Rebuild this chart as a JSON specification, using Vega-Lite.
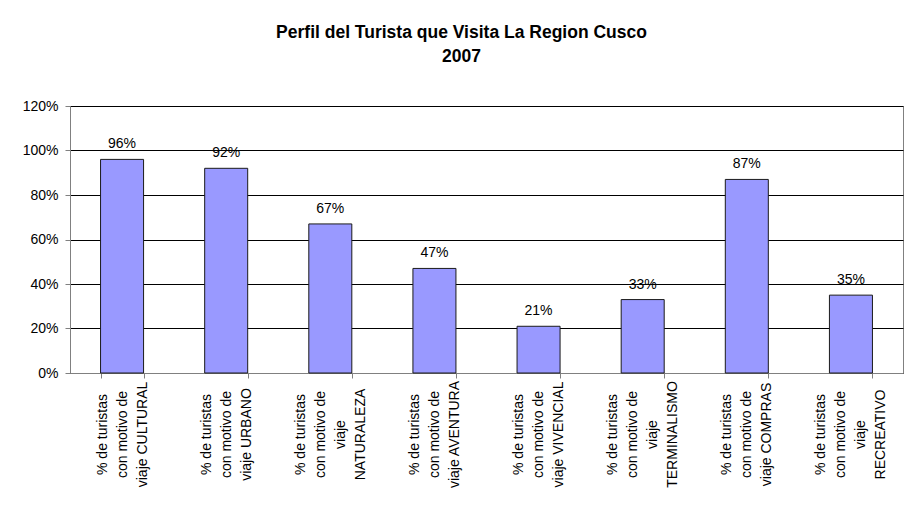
{
  "$schema": "https://vega.github.io/schema/vega-lite/v6.json",
  "autosize": {"type": "none"},
  "width": 833,
  "height": 267,
  "padding": {"left": 70, "top": 106, "right": 1, "bottom": 132},
  "background": "white",
  "title": {
    "text": ["Perfil del Turista que Visita La Region Cusco", "2007"],
    "font": "Liberation Sans",
    "fontSize": 17.5,
    "fontWeight": "bold",
    "color": "black",
    "anchor": "middle",
    "baseline": "alphabetic",
    "lineHeight": 24,
    "offset": 20,
    "dx": -25
  },
  "data": {
    "values": [
      {"motivo": "% de turistas|con motivo de|viaje CULTURAL", "pct": 0.96},
      {"motivo": "% de turistas|con motivo de|viaje URBANO", "pct": 0.92},
      {"motivo": "% de turistas|con motivo de|viaje|NATURALEZA", "pct": 0.67},
      {"motivo": "% de turistas|con motivo de|viaje AVENTURA", "pct": 0.47},
      {"motivo": "% de turistas|con motivo de|viaje VIVENCIAL", "pct": 0.21},
      {"motivo": "% de turistas|con motivo de|viaje|TERMINALISMO", "pct": 0.33},
      {"motivo": "% de turistas|con motivo de|viaje COMPRAS", "pct": 0.87},
      {"motivo": "% de turistas|con motivo de|viaje|RECREATIVO", "pct": 0.35}
    ]
  },
  "encoding": {
    "x": {
      "field": "motivo",
      "type": "nominal",
      "sort": null,
      "scale": {"paddingInner": 0.587, "paddingOuter": 0.2935},
      "axis": {
        "title": null,
        "labelExpr": "isValid(datum.value) ? split(datum.value, '|') : ''",
        "labelAngle": -90,
        "labelAlign": "center",
        "labelBaseline": "middle",
        "labelFont": "Liberation Sans",
        "labelFontSize": 14,
        "labelColor": "black",
        "labelLineHeight": 20,
        "labelPadding": 56,
        "labelOffset": {
          "condition": {"test": "isValid(datum.value) && indexof(datum.value, '|viaje|') >= 0", "value": -30},
          "value": -20
        },
        "labelOverlap": false,
        "labelBound": false,
        "tickBand": "extent",
        "tickSize": 5,
        "tickColor": "#808080",
        "domainColor": "#808080",
        "grid": false
      }
    },
    "y": {
      "field": "pct",
      "type": "quantitative",
      "scale": {"domain": [0, 1.2], "nice": false},
      "axis": {
        "title": null,
        "format": ".0%",
        "values": [0, 0.2, 0.4, 0.6, 0.8, 1.0, 1.2],
        "labelFont": "Liberation Sans",
        "labelFontSize": 14,
        "labelColor": "black",
        "labelPadding": 7,
        "tickSize": 5,
        "tickColor": "#808080",
        "domainColor": "#808080",
        "grid": true,
        "gridColor": "black",
        "gridOpacity": 1,
        "gridWidth": 1
      }
    }
  },
  "layer": [
    {
      "mark": {"type": "bar", "color": "#9999FF", "stroke": "#1a1a1a", "strokeWidth": 1}
    },
    {
      "mark": {
        "type": "text",
        "baseline": "alphabetic",
        "dy": -11,
        "font": "Liberation Sans",
        "fontSize": 14,
        "color": "black"
      },
      "encoding": {
        "text": {"field": "pct", "type": "quantitative", "format": ".0%"}
      }
    }
  ],
  "config": {
    "view": {"stroke": "#808080", "strokeWidth": 1}
  }
}
